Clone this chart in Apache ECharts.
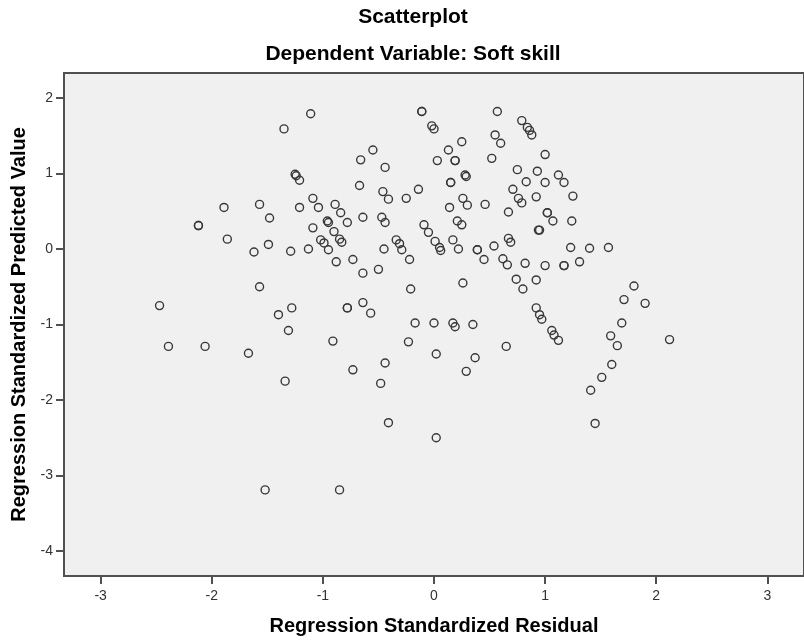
<!DOCTYPE html>
<html>
<head>
<meta charset="utf-8">
<script src="https://cdn.jsdelivr.net/npm/echarts@6/dist/echarts.min.js"></script>
<style>
html,body{margin:0;padding:0;background:#fff;}
#chart{width:804px;height:641px;}
</style>
</head>
<body>
<div id="chart"></div>
<script>
var titleText = "Scatterplot";
var subtitleText = "Dependent Variable: Soft skill";
var xName = "Regression Standardized Residual";
var yName = "Regression Standardized Predicted Value";
var xTicks = [-3, -2, -1, 0, 1, 2, 3];
var yTicks = [-4, -3, -2, -1, 0, 1, 2];

// Regression standardized residual (x)
var residual = [
 -1.35,-1.25,-1.24,-1.21,-1.89,-1.57,-1.48,-1.21,-2.12,-2.12,-1.86,-1.62,-1.49,-1.29,
 -1.11,-0.11,-0.11,-0.02,0.00,0.57,0.79,0.84,0.86,0.88,0.55,0.60,-0.55,-0.66,-0.44,0.13,
 0.25,0.03,0.19,0.19,0.52,-0.67,-0.46,-0.41,-0.25,-0.14,-1.09,-1.04,-0.89,-0.84,-0.78,
 -0.96,-0.95,-1.09,-0.90,-0.64,-0.47,-0.44,-1.02,-0.99,-0.95,-0.85,-0.83,-1.13,-0.88,
 -0.73,-0.64,-0.50,-0.45,-0.34,-0.31,-0.29,-0.22,-0.09,-0.05,0.01,0.05,0.06,0.17,0.22,
 0.21,0.25,0.14,0.26,0.30,0.15,0.15,0.28,0.29,0.46,0.39,0.39,0.45,0.54,0.62,0.66,0.67,
 0.69,0.67,0.71,0.76,0.79,0.75,0.83,0.92,0.93,0.82,0.94,0.95,
 1.00,1.00,1.12,1.17,1.25,1.02,1.02,1.07,1.24,1.23,1.40,1.57,1.00,1.17,1.17,1.31,
 -1.57,-2.47,-1.40,-1.28,-1.31,-2.39,-2.06,-1.67,-1.34,
 -0.21,0.26,0.74,0.80,0.92,-0.78,-0.78,-0.64,-0.57,-0.91,-0.17,0.00,0.17,0.19,0.35,
 0.92,0.95,0.97,-0.23,0.02,0.37,0.65,0.29,-0.44,-0.73,-0.48,-0.41,0.02,
 1.06,1.08,1.12,1.80,1.71,1.90,1.69,1.59,1.65,2.12,1.60,1.51,1.41,1.45,
 -1.52,-0.85
];
// Regression standardized predicted value (y)
var predicted = [
 1.59,0.99,0.97,0.91,0.55,0.59,0.41,0.55,0.31,0.31,0.13,-0.04,0.06,-0.03,
 1.79,1.82,1.82,1.63,1.59,1.82,1.70,1.61,1.57,1.51,1.51,1.40,1.31,1.18,1.08,1.31,
 1.42,1.17,1.17,1.17,1.20,0.84,0.76,0.66,0.67,0.79,0.67,0.55,0.59,0.48,0.35,
 0.37,0.35,0.28,0.23,0.42,0.42,0.35,0.12,0.08,-0.01,0.13,0.09,0.00,-0.17,
 -0.14,-0.32,-0.27,0.00,0.12,0.07,-0.01,-0.14,0.32,0.22,0.10,0.02,-0.02,0.12,0.00,
 0.37,0.32,0.55,0.67,0.58,0.88,0.88,0.98,0.96,0.59,-0.01,-0.01,-0.14,0.04,-0.13,-0.21,0.14,
 0.09,0.49,0.79,0.67,0.61,1.05,0.89,0.69,1.03,-0.19,0.25,0.25,
 1.25,0.88,0.98,0.88,0.70,0.48,0.48,0.37,0.37,0.02,0.01,0.02,-0.22,-0.22,-0.22,-0.17,
 -0.50,-0.75,-0.87,-0.78,-1.08,-1.29,-1.29,-1.38,-1.75,
 -0.53,-0.45,-0.40,-0.53,-0.41,-0.78,-0.78,-0.71,-0.85,-1.22,-0.98,-0.98,-0.98,-1.03,-1.00,
 -0.78,-0.87,-0.93,-1.23,-1.39,-1.44,-1.29,-1.62,-1.51,-1.60,-1.78,-2.30,-2.50,
 -1.08,-1.14,-1.21,-0.49,-0.67,-0.72,-0.98,-1.15,-1.28,-1.20,-1.53,-1.70,-1.87,-2.31,
 -3.19,-3.19
];

var points = residual.map(function (v, i) { return [v, predicted[i]]; });

var chart = echarts.init(document.getElementById('chart'), null, {renderer: 'canvas'});
var axisColor = '#505050';
var fontFam = 'Liberation Sans, Arial, sans-serif';
var nameStyle = {color: '#000', fontFamily: fontFam, fontSize: 20, fontWeight: 'bold'};

chart.setOption({
  backgroundColor: '#ffffff',
  animation: false,
  title: [
    {text: titleText, left: 408, top: 2, textAlign: 'center',
     textStyle: {fontFamily: fontFam, fontSize: 21, fontWeight: 'bold', color: '#000'}},
    {text: subtitleText, left: 408, top: 39, textAlign: 'center',
     textStyle: {fontFamily: fontFam, fontSize: 21, fontWeight: 'bold', color: '#000'}}
  ],
  grid: {
    left: 64, right: -13, top: 73, bottom: 65,
    show: true, backgroundColor: '#f0f0f0', borderColor: axisColor, borderWidth: 2,
    containLabel: false
  },
  xAxis: {
    type: 'value', min: -3.33, max: 3.33,
    name: xName, nameLocation: 'middle', nameGap: 40, nameTextStyle: nameStyle,
    axisLine: {show: true, onZero: false, lineStyle: {color: axisColor, width: 2}},
    axisTick: {show: true, inside: false, length: 8, customValues: xTicks, lineStyle: {color: axisColor, width: 2}},
    axisLabel: {show: true, customValues: xTicks, margin: 13, color: '#333', fontSize: 14, fontFamily: fontFam},
    splitLine: {show: false}
  },
  yAxis: {
    type: 'value', min: -4.33, max: 2.33,
    name: yName, nameLocation: 'middle', nameGap: 35, nameTextStyle: nameStyle,
    axisLine: {show: true, onZero: false, lineStyle: {color: axisColor, width: 2}},
    axisTick: {show: true, inside: false, length: 8, customValues: yTicks, lineStyle: {color: axisColor, width: 2}},
    axisLabel: {show: true, customValues: yTicks, margin: 11, color: '#333', fontSize: 14, fontFamily: fontFam},
    splitLine: {show: false}
  },
  series: [{
    type: 'scatter',
    data: points,
    symbol: 'circle',
    symbolSize: 8,
    itemStyle: {color: 'rgba(0,0,0,0)', borderColor: '#383838', borderWidth: 1.4, opacity: 1}
  }]
});
</script>
</body>
</html>
